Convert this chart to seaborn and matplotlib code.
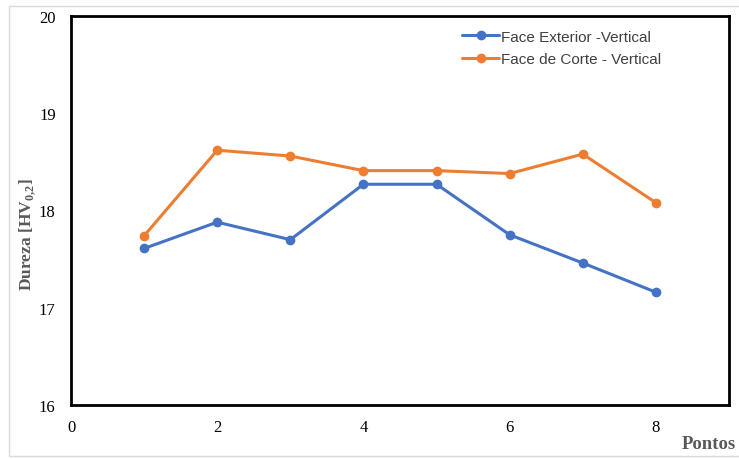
import matplotlib
matplotlib.use("Agg")
import matplotlib.pyplot as plt
import matplotlib.patches as mpatches
import seaborn as sns
import pandas as pd

pontos = [1, 2, 3, 4, 5, 6, 7, 8]
face_exterior = [17.61, 17.88, 17.70, 18.27, 18.27, 17.75, 17.46, 17.16]
face_corte = [17.74, 18.62, 18.56, 18.41, 18.41, 18.38, 18.58, 18.08]
series_names = ["Face Exterior -Vertical", "Face de Corte - Vertical"]
x_ticks = [0, 2, 4, 6, 8]
y_ticks = [16, 17, 18, 19, 20]

df = pd.DataFrame({
    "Pontos": pontos * 2,
    "Dureza": face_exterior + face_corte,
    "Serie": [series_names[0]] * len(pontos) + [series_names[1]] * len(pontos),
})

sns.set_style("white")
plt.rcParams["font.family"] = ["Liberation Serif", "DejaVu Serif"]
plt.rcParams["mathtext.fontset"] = "custom"
plt.rcParams["mathtext.rm"] = "Liberation Serif"
plt.rcParams["mathtext.bf"] = "Liberation Serif:bold"

fig = plt.figure(figsize=(7.39, 4.60), dpi=100)
ax = fig.add_axes([71 / 739, 1 - 406 / 460, (729 - 71) / 739, (406 - 17) / 460])

palette = {series_names[0]: "#4472C4", series_names[1]: "#ED7D31"}
sns.lineplot(data=df, x="Pontos", y="Dureza", hue="Serie", palette=palette,
             marker="o", markersize=7, markeredgewidth=0, linewidth=2.2,
             ax=ax, legend=True)

ax.set_xlim(0, 9)
ax.set_ylim(16, 20)
ax.set_xticks(x_ticks)
ax.set_xticks(range(0, 10), minor=True)
ax.set_yticks(y_ticks)
ax.set_yticks([16.5, 17.5, 18.5, 19.5], minor=True)
ax.tick_params(axis="both", which="both", direction="in", length=3, width=1.5,
               color="black", labelsize=12, labelcolor="black")
ax.tick_params(axis="y", which="major", pad=11)
ax.tick_params(axis="x", which="major", pad=10)
for s in ax.spines.values():
    s.set_color("black")
    s.set_linewidth(2)

ax.set_xlabel("")
ax.set_ylabel(r"Dureza [HV$_{\mathbf{0{,}2}}$]", fontsize=12.5, fontweight="bold",
              color="#595959")
ax.yaxis.set_label_coords(-0.05, 0.44)
fig.text(709 / 739, 1 - 445 / 460, "Pontos", ha="center", va="center",
         fontsize=13.5, fontweight="bold", color="#595959")

leg = ax.legend(loc="upper left", bbox_to_anchor=(0.574, 1.0), frameon=False,
                handlelength=2.4, labelspacing=0.55, handletextpad=0.15,
                prop={"family": "Liberation Sans", "size": 11})
for t in leg.get_texts():
    t.set_color("#404040")

fig.patches.append(mpatches.Rectangle((9 / 739, 1 - 457 / 460), 740 / 739, 450 / 460,
                                      transform=fig.transFigure, fill=False,
                                      edgecolor="#d9d9d9", linewidth=1))

fig.savefig("out.png", dpi=100)
